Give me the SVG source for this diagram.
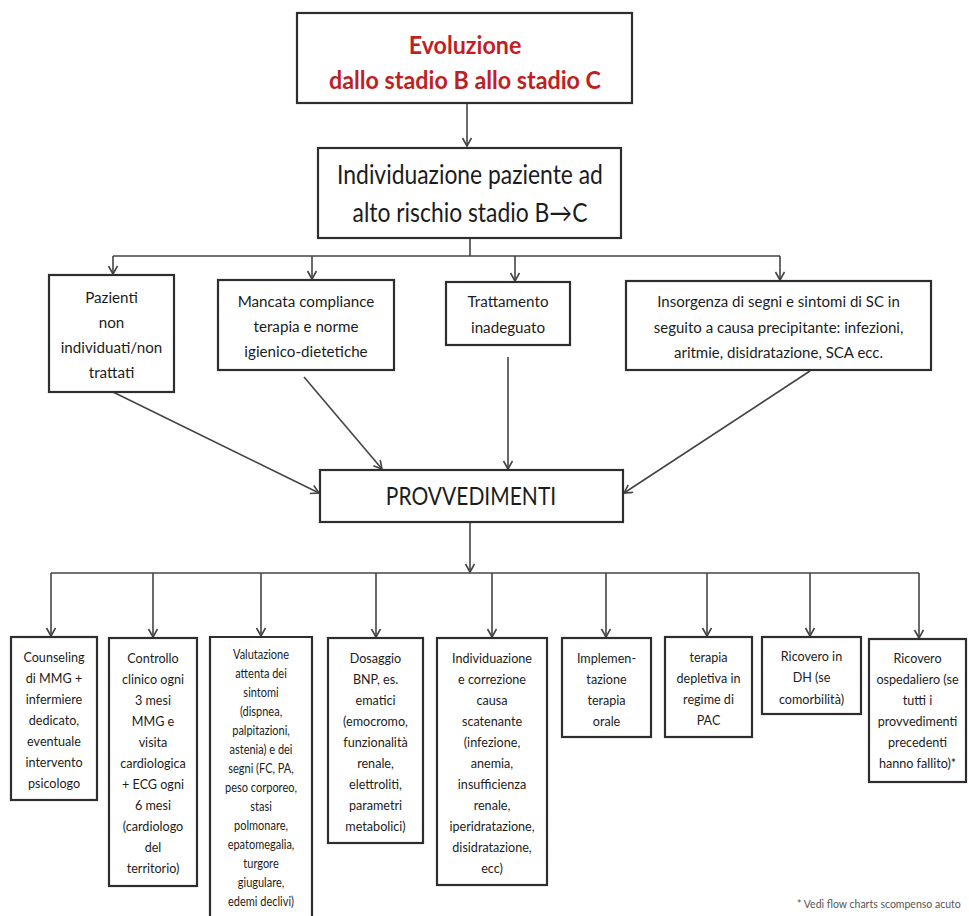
<svg xmlns="http://www.w3.org/2000/svg" width="969" height="916" viewBox="0 0 969 916">
  <style>
    .box { fill: #ffffff; stroke: #2e2e2e; stroke-width: 2.2; }
    .open { fill: none; stroke: #2e2e2e; stroke-width: 2.2; }
    .conn { fill: none; stroke: #444444; stroke-width: 1.6; }
    .arr { marker-end: url(#head); }
    text { font-family: Lato, "Liberation Sans", sans-serif; fill: #1c1c1c; text-anchor: middle; }
    .title { font-weight: bold; font-size: 24px; fill: #c01f24; }
    .big { font-size: 26px; }
    .mid { font-size: 16px; }
    .prov { font-size: 25px; }
    .small { font-size: 14px; }
    .tiny { font-size: 12.5px; }
    .note { font-size: 10.5px; fill: #555555; text-anchor: start; }
  </style>
  <defs>
    <marker id="head" markerUnits="userSpaceOnUse" markerWidth="12" markerHeight="12" refX="9" refY="5" orient="auto">
      <path d="M1,0.5 L9,5 L1,9.5" fill="none" stroke="#444444" stroke-width="1.6"/>
    </marker>
  </defs>

  <rect width="969" height="916" fill="#ffffff"/>

  <!-- connectors -->
  <g id="connectors">
    <path class="conn arr" d="M467,103 V146"/>
    <path class="conn" d="M470,238 V256 M113,256 H780"/>
    <path class="conn arr" d="M113,256 V274"/>
    <path class="conn arr" d="M312,256 V279"/>
    <path class="conn arr" d="M515,256 V281"/>
    <path class="conn arr" d="M780,256 V280"/>
    <path class="conn arr" d="M113,392 L319,493"/>
    <path class="conn arr" d="M304,377 L382,469"/>
    <path class="conn arr" d="M508,357 V469"/>
    <path class="conn arr" d="M810,371 L624,493"/>
    <path class="conn arr" d="M470,522 V572"/>
    <path class="conn" d="M51,573 H919"/>
    <path class="conn arr" d="M51,573 V636"/>
    <path class="conn arr" d="M153,573 V637"/>
    <path class="conn arr" d="M261,573 V636"/>
    <path class="conn arr" d="M376,573 V637"/>
    <path class="conn arr" d="M492,573 V637"/>
    <path class="conn arr" d="M606,573 V637"/>
    <path class="conn arr" d="M707,573 V636"/>
    <path class="conn arr" d="M810,573 V636"/>
    <path class="conn arr" d="M919,573 V638"/>
  </g>

  <!-- top: evolution B to C -->
  <g id="evoluzione">
    <rect class="box" x="297" y="13" width="335" height="90"/>
    <g transform="translate(465 0) scale(0.97 1)">
      <text class="title" x="0" y="54">Evoluzione</text>
      <text class="title" x="0" y="89">dallo stadio B allo stadio C</text>
    </g>
  </g>

  <g id="individuazione">
    <rect class="box" x="318" y="148" width="303" height="90"/>
    <g transform="translate(470 0) scale(0.88 1)">
      <text class="big" x="0" y="184">Individuazione paziente ad</text>
      <text class="big" x="0" y="222">alto rischio stadio B→C</text>
    </g>
  </g>

  <!-- second row: causes -->
  <g id="pazienti">
    <rect class="box" x="49" y="275" width="125" height="117"/>
    <g transform="translate(111.5 0) scale(0.95 1)">
      <text class="mid" x="0" y="303">Pazienti</text>
      <text class="mid" x="0" y="328">non</text>
      <text class="mid" x="0" y="353">individuati/non</text>
      <text class="mid" x="0" y="378">trattati</text>
    </g>
  </g>

  <g id="compliance">
    <rect class="box" x="218" y="280" width="176" height="90"/>
    <g transform="translate(306 0) scale(0.95 1)">
      <text class="mid" x="0" y="307">Mancata compliance</text>
      <text class="mid" x="0" y="332">terapia e norme</text>
      <text class="mid" x="0" y="357">igienico-dietetiche</text>
    </g>
  </g>

  <g id="trattamento">
    <rect class="box" x="446" y="282" width="124" height="63"/>
    <g transform="translate(508 0) scale(0.95 1)">
      <text class="mid" x="0" y="307">Trattamento</text>
      <text class="mid" x="0" y="333">inadeguato</text>
    </g>
  </g>

  <g id="insorgenza">
    <rect class="box" x="626" y="281" width="305" height="89"/>
    <g transform="translate(778.5 0) scale(0.94 1)">
      <text class="mid" x="0" y="307">Insorgenza di segni e sintomi di SC in</text>
      <text class="mid" x="0" y="333">seguito a causa precipitante: infezioni,</text>
      <text class="mid" x="0" y="358">aritmie, disidratazione, SCA ecc.</text>
    </g>
  </g>

  <g id="provvedimenti">
    <rect class="box" x="320" y="470" width="303" height="52"/>
    <g transform="translate(471 0) scale(0.84 1)">
      <text class="prov" x="0" y="505">PROVVEDIMENTI</text>
    </g>
  </g>

  <!-- bottom row: measures -->
  <g id="counseling">
    <rect class="box" x="11" y="637" width="86" height="163"/>
    <g class="small" transform="translate(54 0) scale(0.9 1)">
      <text x="0" y="662">Counseling</text>
      <text x="0" y="683">di MMG +</text>
      <text x="0" y="704">infermiere</text>
      <text x="0" y="725">dedicato,</text>
      <text x="0" y="746">eventuale</text>
      <text x="0" y="767">intervento</text>
      <text x="0" y="788">psicologo</text>
    </g>
  </g>

  <g id="controllo">
    <rect class="box" x="109" y="638" width="88" height="248"/>
    <g class="small" transform="translate(153 0) scale(0.9 1)">
      <text x="0" y="663">Controllo</text>
      <text x="0" y="684">clinico ogni</text>
      <text x="0" y="705">3 mesi</text>
      <text x="0" y="726">MMG e</text>
      <text x="0" y="747">visita</text>
      <text x="0" y="768">cardiologica</text>
      <text x="0" y="789">+ ECG ogni</text>
      <text x="0" y="810">6 mesi</text>
      <text x="0" y="831">(cardiologo</text>
      <text x="0" y="852">del</text>
      <text x="0" y="873">territorio)</text>
    </g>
  </g>

  <g id="valutazione">
    <path class="open" d="M210,916 V637 H312 V916"/>
    <g class="tiny" transform="translate(261 0) scale(0.88 1)">
      <text x="0" y="659">Valutazione</text>
      <text x="0" y="678">attenta dei</text>
      <text x="0" y="697">sintomi</text>
      <text x="0" y="716">(dispnea,</text>
      <text x="0" y="735">palpitazioni,</text>
      <text x="0" y="754">astenia) e dei</text>
      <text x="0" y="773">segni (FC, PA,</text>
      <text x="0" y="792">peso corporeo,</text>
      <text x="0" y="811">stasi</text>
      <text x="0" y="830">polmonare,</text>
      <text x="0" y="849">epatomegalia,</text>
      <text x="0" y="868">turgore</text>
      <text x="0" y="887">giugulare,</text>
      <text x="0" y="906">edemi declivi)</text>
    </g>
  </g>

  <g id="dosaggio">
    <rect class="box" x="328" y="638" width="95" height="205"/>
    <g class="small" transform="translate(375.5 0) scale(0.9 1)">
      <text x="0" y="663">Dosaggio</text>
      <text x="0" y="684">BNP, es.</text>
      <text x="0" y="705">ematici</text>
      <text x="0" y="726">(emocromo,</text>
      <text x="0" y="747">funzionalità</text>
      <text x="0" y="768">renale,</text>
      <text x="0" y="789">elettroliti,</text>
      <text x="0" y="810">parametri</text>
      <text x="0" y="831">metabolici)</text>
    </g>
  </g>

  <g id="causa">
    <rect class="box" x="437" y="638" width="110" height="247"/>
    <g class="small" transform="translate(492 0) scale(0.9 1)">
      <text x="0" y="663">Individuazione</text>
      <text x="0" y="684">e correzione</text>
      <text x="0" y="705">causa</text>
      <text x="0" y="726">scatenante</text>
      <text x="0" y="747">(infezione,</text>
      <text x="0" y="768">anemia,</text>
      <text x="0" y="789">insufficienza</text>
      <text x="0" y="810">renale,</text>
      <text x="0" y="831">iperidratazione,</text>
      <text x="0" y="852">disidratazione,</text>
      <text x="0" y="873">ecc)</text>
    </g>
  </g>

  <g id="terapia-orale">
    <rect class="box" x="562" y="638" width="89" height="99"/>
    <g class="small" transform="translate(606.5 0) scale(0.9 1)">
      <text x="0" y="663">Implemen-</text>
      <text x="0" y="684">tazione</text>
      <text x="0" y="705">terapia</text>
      <text x="0" y="726">orale</text>
    </g>
  </g>

  <g id="terapia-depletiva">
    <rect class="box" x="665" y="637" width="87" height="100"/>
    <g class="small" transform="translate(708.5 0) scale(0.9 1)">
      <text x="0" y="662">terapia</text>
      <text x="0" y="683">depletiva in</text>
      <text x="0" y="704">regime di</text>
      <text x="0" y="725">PAC</text>
    </g>
  </g>

  <g id="ricovero-dh">
    <rect class="box" x="762" y="637" width="99" height="77"/>
    <g class="small" transform="translate(811.5 0) scale(0.9 1)">
      <text x="0" y="661">Ricovero in</text>
      <text x="0" y="682">DH (se</text>
      <text x="0" y="704">comorbilità)</text>
    </g>
  </g>

  <g id="ricovero-ospedaliero">
    <rect class="box" x="869" y="639" width="97" height="143"/>
    <g class="small" transform="translate(917.5 0) scale(0.9 1)">
      <text x="0" y="663">Ricovero</text>
      <text x="0" y="684">ospedaliero (se</text>
      <text x="0" y="705">tutti i</text>
      <text x="0" y="726">provvedimenti</text>
      <text x="0" y="747">precedenti</text>
      <text x="0" y="768">hanno fallito)*</text>
    </g>
  </g>

  <g id="footnote">
    <text class="note" x="797" y="908">* Vedi flow charts scompenso acuto</text>
  </g>
</svg>
